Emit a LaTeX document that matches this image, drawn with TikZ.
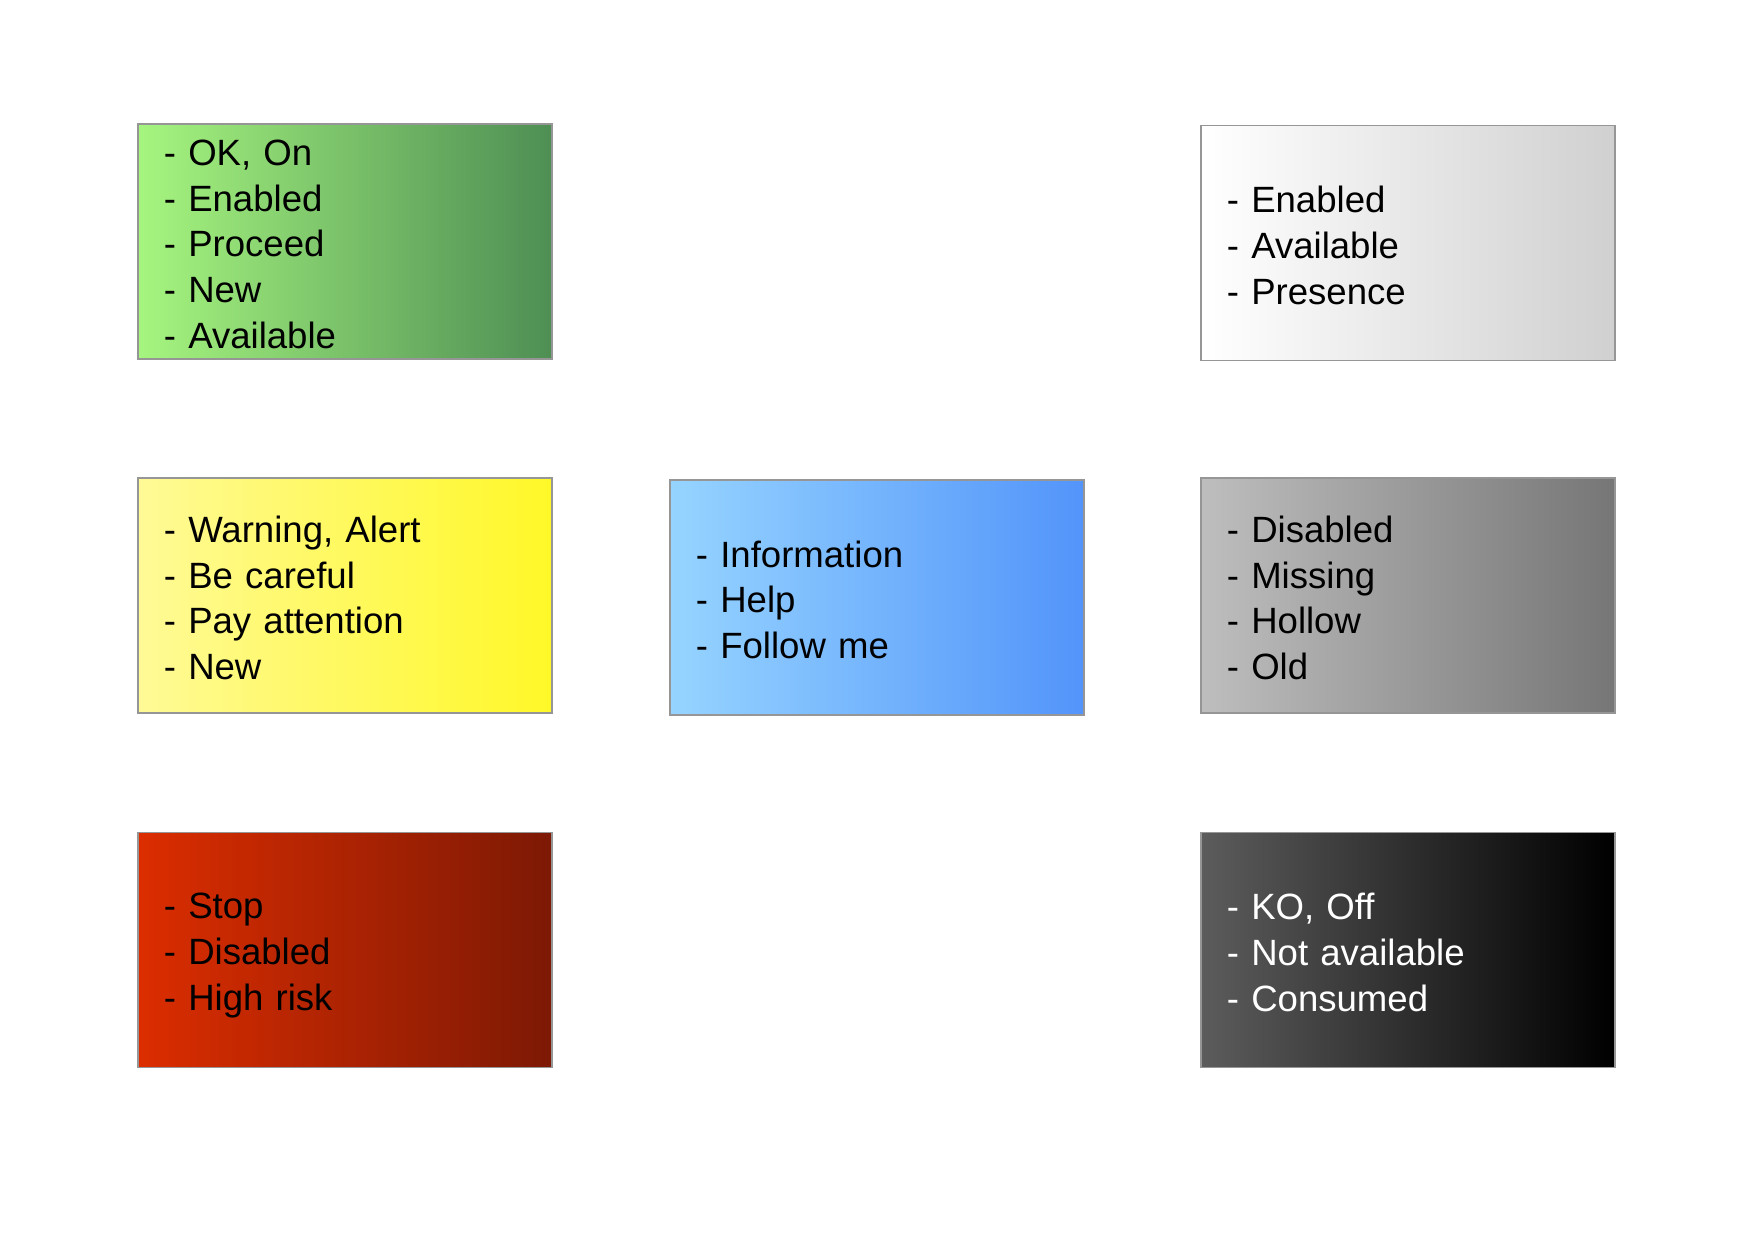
\documentclass[tikz,border=0pt]{standalone}
\usepackage{fontspec}
\setmainfont{Liberation Sans}
\newcommand\lnst{\rule[-1.6pt]{0pt}{12pt}}
\definecolor{grL}{RGB}{166,245,127}
\definecolor{grR}{RGB}{78,142,84}
\definecolor{whL}{RGB}{255,255,255}
\definecolor{whR}{RGB}{208,208,208}
\definecolor{yeL}{RGB}{255,250,150}
\definecolor{yeR}{RGB}{255,248,40}
\definecolor{blL}{RGB}{150,212,255}
\definecolor{blR}{RGB}{82,148,250}
\definecolor{gyL}{RGB}{190,190,190}
\definecolor{gyR}{RGB}{118,118,118}
\definecolor{rdL}{RGB}{220,45,0}
\definecolor{rdR}{RGB}{125,25,5}
\definecolor{bkL}{RGB}{92,92,92}
\definecolor{bkR}{RGB}{0,0,0}
\definecolor{frame}{RGB}{150,150,150}
\tikzset{
  statebox/.style={rectangle, draw=frame, line width=0.4pt,
    minimum width=4.14cm, minimum height=2.35cm,
    inner xsep=0.26cm, inner ysep=0pt, text width=3.62cm, align=left,
    font=\fontsize{10.4pt}{13pt}\selectfont},
  shadeLR/.style 2 args={left color=#1, right color=#2}
}
\begin{document}
\begin{tikzpicture}[x=0.01cm,y=-0.01cm]
\useasboundingbox (0,0) rectangle (1754,1240);
\node[statebox, shadeLR={grL}{grR}] (ok) at (345,241.5)
  {\lnst- OK, On\\\lnst- Enabled\\\lnst- Proceed\\\lnst- New\\\lnst- Available};
\node[statebox, shadeLR={whL}{whR}] (enabled) at (1408,243)
  {\lnst- Enabled\\\lnst- Available\\\lnst- Presence};
\node[statebox, shadeLR={yeL}{yeR}] (warning) at (345,595.5)
  {\lnst- Warning, Alert\\\lnst- Be careful\\\lnst- Pay attention\\\lnst- New};
\node[statebox, shadeLR={blL}{blR}] (info) at (877,597.5)
  {\lnst- Information\\\lnst- Help\\\lnst- Follow me};
\node[statebox, shadeLR={gyL}{gyR}] (disabled) at (1408,595.5)
  {\lnst- Disabled\\\lnst- Missing\\\lnst- Hollow\\\lnst- Old};
\node[statebox, shadeLR={rdL}{rdR}] (stop) at (345,950)
  {\lnst- Stop\\\lnst- Disabled\\\lnst- High risk};
\node[statebox, shadeLR={bkL}{bkR}, text=white] (ko) at (1408,950)
  {\lnst- KO, Off\\\lnst- Not available\\\lnst- Consumed};
\end{tikzpicture}
\end{document}
